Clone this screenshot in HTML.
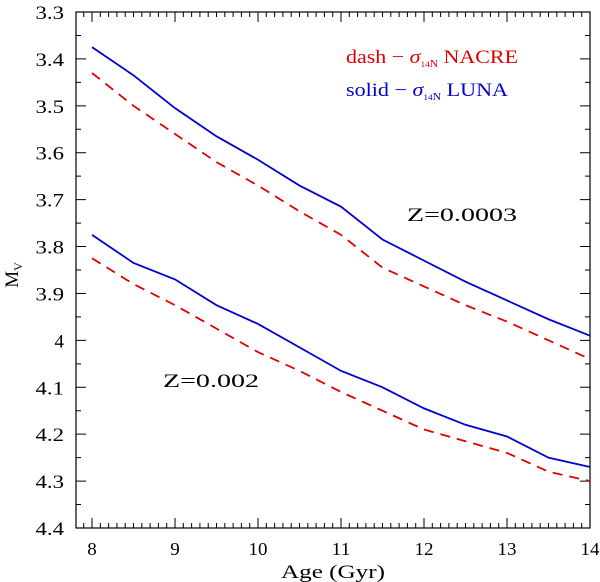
<!DOCTYPE html>
<html><head><meta charset="utf-8"><style>
body{margin:0;background:#fff}
svg{display:block;font-family:"Liberation Serif",serif}
</style></head><body>
<svg id="c" width="600" height="582"></svg>
<script>
const ages=[8,8.5,9,9.5,10,10.5,11,11.5,12,12.5,13,13.5,14];
const lunaZ0003=[3.375,3.435,3.505,3.565,3.615,3.67,3.715,3.785,3.83,3.875,3.915,3.955,3.99];
const nacreZ0003=[3.43,3.5,3.56,3.62,3.67,3.725,3.775,3.845,3.885,3.925,3.96,4.0,4.04];
const lunaZ002=[3.775,3.835,3.87,3.925,3.965,4.015,4.065,4.1,4.145,4.18,4.205,4.25,4.27];
const nacreZ002=[3.825,3.88,3.925,3.975,4.025,4.065,4.11,4.15,4.19,4.215,4.24,4.28,4.3];
const xTicks=[8,9,10,11,12,13,14];
const yTicks=["3.3","3.4","3.5","3.6","3.7","3.8","3.9","4","4.1","4.2","4.3","4.4"];
const L=76,R=590,T=12,B=528,X0=7.807,X1=14,Y0=3.3,Y1=4.4;
const sx=v=>L+(v-X0)/(X1-X0)*(R-L), sy=v=>T+(v-Y0)/(Y1-Y0)*(B-T);
const svg=document.getElementById('c'),NS='http://www.w3.org/2000/svg';
function mk(t,a,p){const e=document.createElementNS(NS,t);for(const k in a)e.setAttribute(k,a[k]);(p||svg).appendChild(e);return e;}
const frame=mk('rect',{x:L,y:T,width:R-L,height:B-T,fill:'none',stroke:'#000','stroke-width':1.2});


let d='';
for(let i=0;i<=62;i++){const v=7.8+i*0.1;if(v<X0-1e-6)continue;const x=sx(v);const len=(Math.abs(v-Math.round(v))<1e-6)?10:5;d+=`M${x},${B}v${-len}M${x},${T}v${len}`;}
for(let i=0;i<=22;i++){const v=Y0+i*0.05;const y=sy(v);const len=(i%2==0)?10:5;d+=`M${L},${y}h${len}M${R},${y}h${-len}`;}
const ticks=mk('path',{d:d,stroke:'#000','stroke-width':1,fill:'none'});


xTicks.forEach(v=>{const s=String(v);const t=mk('text',{x:sx(v),y:555,'text-anchor':'middle','font-size':18,textLength:s.length*9.5,lengthAdjust:'spacingAndGlyphs'});t.textContent=s;

});
yTicks.forEach(s=>{const t=mk('text',{x:64,y:sy(+s)+7,'text-anchor':'end','font-size':19,textLength:s.length*9.5,lengthAdjust:'spacingAndGlyphs'});t.textContent=s;

});
const xt=mk('text',{x:281,y:578,'font-size':19,textLength:104,lengthAdjust:'spacingAndGlyphs'});xt.textContent='Age (Gyr)';


const yt=mk('text',{x:18,y:275,'text-anchor':'middle','font-size':19,transform:'rotate(-90 18 275)'});yt.innerHTML='M<tspan font-size="12" dy="4">V</tspan>';


function line(vals,col,dash,name){const p=mk('polyline',{points:ages.map((a,i)=>sx(a)+','+sy(vals[i])).join(' '),fill:'none',stroke:col,'stroke-width':1.8});
if(dash)p.setAttribute('stroke-dasharray','10,7');

}
line(lunaZ0003,'#0000d0',false,'luna-z0003-line');
line(nacreZ0003,'#e00000',true,'nacre-z0003-line');
line(lunaZ002,'#0000d0',false,'luna-z002-line');
line(nacreZ002,'#e00000',true,'nacre-z002-line');
function txt(x,y,html,col,name,w){const t=mk('text',{x:x,y:y,'font-size':19,fill:col,textLength:w,lengthAdjust:'spacingAndGlyphs'});t.innerHTML=html;

}
txt(346,63,'dash − <tspan font-style="italic">σ</tspan><tspan font-size="8" dy="4">14</tspan><tspan font-size="10">N</tspan><tspan dy="-4"> NACRE</tspan>','#e00000','legend-nacre',172);
txt(346,96,'solid − <tspan font-style="italic">σ</tspan><tspan font-size="8" dy="4">14</tspan><tspan font-size="10">N</tspan><tspan dy="-4"> LUNA</tspan>','#0000d0','legend-luna',162);
txt(407,221,'Z=0.0003','#000','label-z0003',110);
txt(163,387,'Z=0.002','#000','label-z002',96);
</script>
</body></html>
